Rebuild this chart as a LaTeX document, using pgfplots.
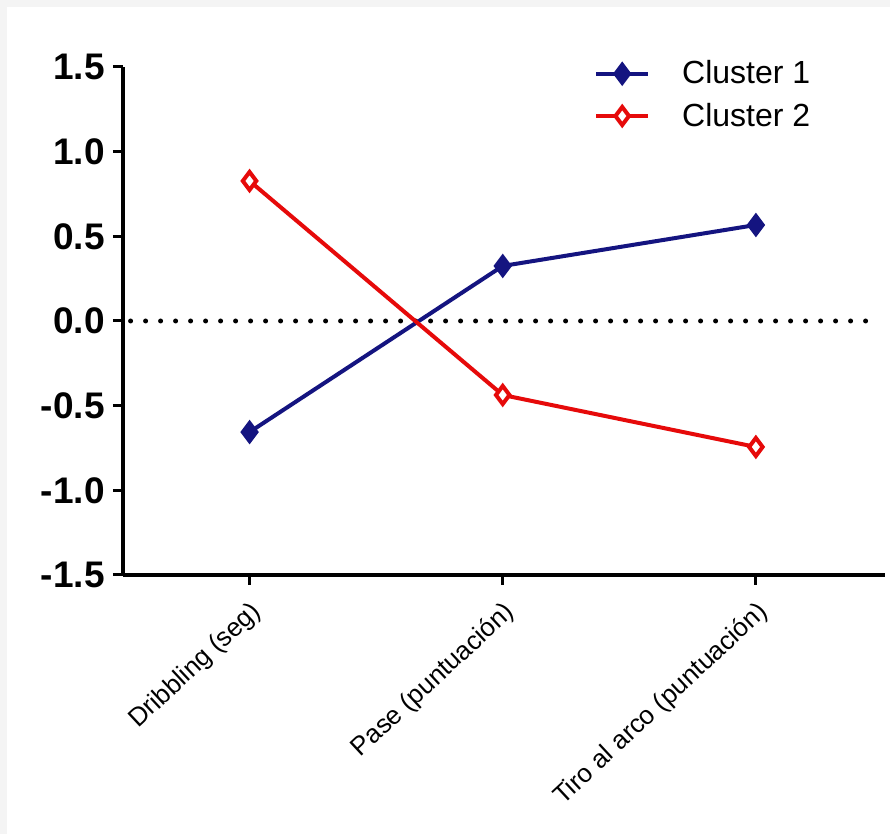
\documentclass[border=0pt]{standalone}
\usepackage{pgfplots}
\pgfplotsset{compat=1.18}
\usepackage{fontspec}
\setmainfont{Liberation Sans}
\definecolor{cnavy}{RGB}{20,20,128}
\definecolor{cred}{RGB}{230,10,10}
\definecolor{cframe}{RGB}{244,244,244}
\begin{document}
\begin{tikzpicture}
\fill[cframe] (-61.5pt,-129.5pt) rectangle (383.5pt,287.5pt);
\fill[white] (-58pt,-129.5pt) rectangle (383.5pt,284pt);
\useasboundingbox (-61.5pt,-129.5pt) rectangle (383.5pt,287.5pt);
\begin{axis}[
  at={(0pt,0pt)}, anchor=south west,
  scale only axis, width=381pt, height=254pt,
  xmin=-0.5, xmax=2.51, ymin=-1.5, ymax=1.5,
  axis x line*=bottom, axis y line*=left,
  axis line style={line width=2pt, -},
  xtick={0,1,2},
  xticklabels={Dribbling (seg), Pase (puntuación), Tiro al arco (puntuación)},
  ytick={-1.5,-1,-0.5,0,0.5,1,1.5},
  /pgf/number format/fixed, /pgf/number format/fixed zerofill,
  /pgf/number format/precision=1, /pgf/number format/assume math mode=true,
  yticklabel style={font=\fontsize{18.5}{18.5}\selectfont\bfseries, inner sep=1pt, xshift=-3pt},
  xticklabel style={font=\fontsize{13}{13}\selectfont, rotate=43, anchor=north east, inner sep=1pt, yshift=-4pt, xshift=-4pt},
  tick style={line width=1.5pt, black},
  tick align=outside,
  major tick length=5pt,
  clip=false,
  legend style={at={(0.61,1.025)}, anchor=north west, draw=none, fill=none,
    font=\fontsize{16}{16}\selectfont, row sep=6pt,
    nodes={inner sep=1pt}},
  legend cell align=left,
  legend image code/.code={\draw[mark repeat=2,mark phase=2,#1] plot coordinates {(0pt,0pt) (13pt,0pt) (26pt,0pt)};},
]
\addplot[black, line width=2.5pt, line cap=round, dash pattern=on 0pt off 7.5pt, forget plot] coordinates {(-0.47,0) (2.474,0)};
\addplot[cnavy, line width=2pt, mark=diamond*, mark size=4.5pt, mark options={fill=cnavy, solid}] coordinates {(0,-0.656) (1,0.325) (2,0.567)};
\addlegendentry{\hspace{15pt}Cluster 1}
\addplot[cred, line width=2pt, mark=diamond*, mark size=4.5pt, mark options={fill=white, line width=2pt, solid}] coordinates {(0,0.827) (1,-0.437) (2,-0.744)};
\addlegendentry{\hspace{15pt}Cluster 2}
\end{axis}
\end{tikzpicture}
\end{document}
